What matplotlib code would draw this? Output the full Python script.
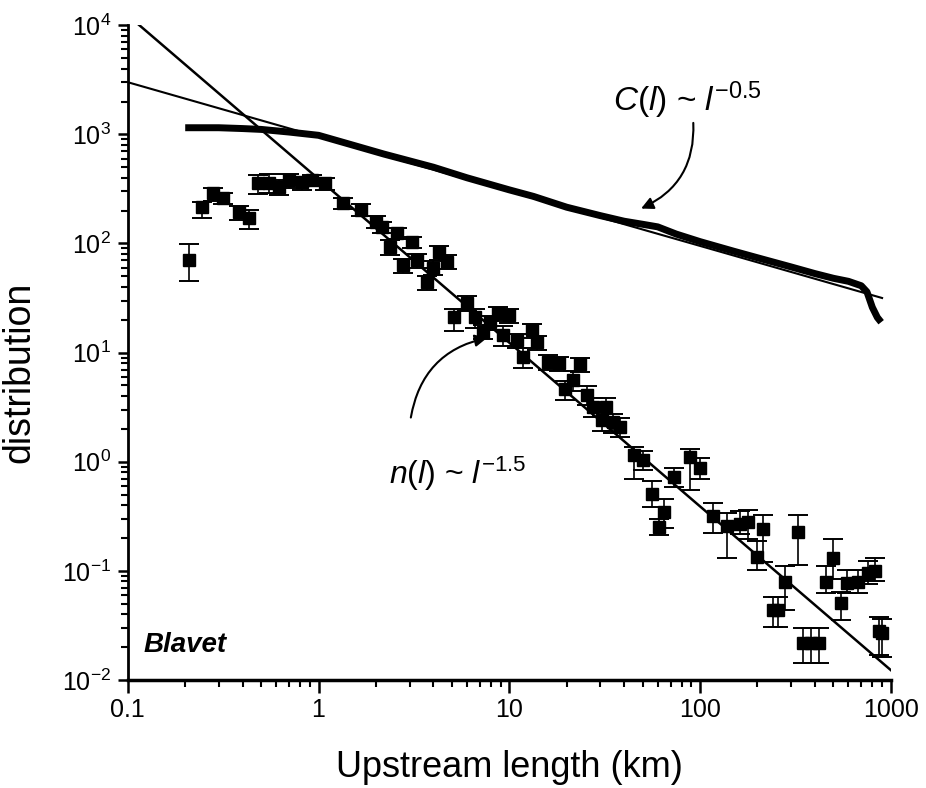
import numpy as np
import matplotlib.pyplot as plt
from matplotlib.ticker import LogLocator, NullFormatter

plt.rcParams['font.family'] = ['Liberation Sans', 'DejaVu Sans']
plt.rcParams['mathtext.fontset'] = 'custom'
plt.rcParams['mathtext.rm'] = 'Liberation Sans'
plt.rcParams['mathtext.it'] = 'Liberation Sans:italic'
plt.rcParams['mathtext.bf'] = 'Liberation Sans:bold'
plt.rcParams['axes.unicode_minus'] = False

# n(l): histogram points (length in km, distribution)
length = [0.21, 0.244, 0.279, 0.316, 0.383, 0.43, 0.48, 0.55, 0.62, 0.70,
          0.82, 0.92, 1.08, 1.35, 1.66, 2.0, 2.15, 2.37, 2.58, 2.77,
          3.1, 3.3, 3.7, 4.0, 4.3, 4.7, 5.1, 6.0, 6.6, 7.3,
          7.95, 8.7, 9.3, 10.0, 11.0, 11.8, 13.2, 13.9, 16, 18.2,
          19.7, 21.7, 23.6, 25.7, 27.5, 30.5, 32, 35, 38, 45,
          50, 56, 61, 65, 73, 89, 100, 117, 138, 162,
          178, 200, 214, 240, 255, 280, 325, 345, 380, 420,
          455, 500, 550, 590, 670, 760, 830, 870, 900]
n_l = [70, 215, 288, 259, 195, 170, 355, 360, 330, 380,
       365, 380, 355, 234, 204, 158, 141, 93, 124, 63,
       103, 70, 44, 60, 83, 68, 21, 28.5, 21, 15.6,
       19, 23, 14.5, 22, 13, 9.1, 16, 12.4, 8.2, 8.0,
       4.6, 5.6, 7.8, 4.1, 3.2, 2.4, 3.2, 2.3, 2.1, 1.15,
       1.04, 0.51, 0.25, 0.35, 0.73, 1.1, 0.87, 0.32, 0.26, 0.27,
       0.28, 0.135, 0.24, 0.044, 0.044, 0.079, 0.225, 0.022, 0.022, 0.022,
       0.079, 0.13, 0.051, 0.078, 0.079, 0.095, 0.10, 0.028, 0.027]
# relative error bars (below, above)
err_lo = [0.35, 0.2, 0.15, 0.12, 0.15, 0.2, 0.2, 0.2, 0.15, 0.15,
          0.15, 0.12, 0.12, 0.12, 0.12, 0.12, 0.12, 0.15, 0.12, 0.15,
          0.12, 0.15, 0.15, 0.15, 0.15, 0.15, 0.25, 0.15, 0.2, 0.15,
          0.15, 0.15, 0.2, 0.15, 0.15, 0.2, 0.15, 0.15, 0.15, 0.15,
          0.2, 0.2, 0.15, 0.2, 0.2, 0.2, 0.2, 0.2, 0.2, 0.4,
          0.2, 0.25, 0.15, 0.3, 0.2, 0.5, 0.2, 0.3, 0.5, 0.2,
          0.3, 0.25, 0.5, 0.3, 0.3, 0.45, 0.5, 0.35, 0.35, 0.35,
          0.2, 0.35, 0.3, 0.2, 0.2, 0.2, 0.2, 0.4, 0.4]
err_hi = [0.4, 0.12, 0.12, 0.12, 0.12, 0.2, 0.2, 0.2, 0.15, 0.15,
          0.12, 0.12, 0.12, 0.12, 0.12, 0.12, 0.12, 0.15, 0.12, 0.15,
          0.12, 0.15, 0.15, 0.15, 0.15, 0.15, 0.2, 0.15, 0.2, 0.15,
          0.15, 0.15, 0.2, 0.15, 0.15, 0.2, 0.15, 0.15, 0.15, 0.15,
          0.2, 0.2, 0.15, 0.2, 0.2, 0.2, 0.2, 0.2, 0.2, 0.2,
          0.2, 0.3, 0.2, 0.3, 0.2, 0.2, 0.25, 0.3, 0.3, 0.3,
          0.3, 0.4, 0.35, 0.3, 0.3, 0.4, 0.45, 0.35, 0.35, 0.35,
          0.4, 0.5, 0.25, 0.3, 0.3, 0.3, 0.3, 0.35, 0.35]

# C(l): cumulative curve (thick line)
c_length = [0.2, 0.3, 0.4, 0.5, 0.7, 1.0, 1.5, 2.2, 4, 6,
            10, 13.4, 20, 30, 40, 50, 60, 75, 100, 150,
            200, 300, 400, 500, 600, 700, 750, 800, 850, 890]
c_l = [1150, 1150, 1130, 1110, 1050, 980, 800, 660, 500, 400,
       310, 270, 215, 180, 160, 150, 142, 122, 104, 85,
       74, 61, 53, 48, 45, 41, 36, 26, 21, 19]

# power-law fits
n_amp, n_exp = 390, -1.5
c_amp, c_exp = 950, -0.5

xtick_vals = [0.1, 1, 10, 100, 1000]
xtick_labels = ['0.1', '1', '10', '100', '1000']
ytick_vals = [1e-2, 1e-1, 1e0, 1e1, 1e2, 1e3, 1e4]

fig = plt.figure(figsize=(9.26, 7.88), dpi=100)
ax = fig.add_axes([0.138, 0.137, 0.824, 0.831])

ax.set_xscale('log')
ax.set_yscale('log')

# fit lines
xf = np.logspace(-1, 3, 50)
ax.plot(xf, n_amp * xf ** n_exp, color='black', lw=1.8, zorder=2)
xc = np.logspace(-1, np.log10(900), 50)
ax.plot(xc, c_amp * xc ** c_exp, color='black', lw=1.5, zorder=2)

# C(l) data curve
ax.plot(c_length, c_l, color='black', lw=5, solid_capstyle='butt', zorder=3)

# n(l) data with error bars
x = np.array(length)
y = np.array(n_l)
yerr = [y * np.array(err_lo), y * np.array(err_hi)]
ax.errorbar(x, y, yerr=yerr, fmt='s', color='black', ms=9, capsize=7,
            elinewidth=1.2, capthick=1.4, zorder=4)

ax.set_xlim(0.1, 1000)
ax.set_ylim(1e-2, 1e4)

ax.spines['top'].set_visible(False)
ax.spines['right'].set_visible(False)
ax.spines['left'].set_linewidth(2)
ax.spines['bottom'].set_linewidth(2.5)

ax.set_xticks(xtick_vals)
ax.set_xticklabels(xtick_labels)
ax.set_yticks(ytick_vals)
minor = LogLocator(base=10, subs=np.arange(2, 10))
ax.xaxis.set_minor_locator(minor)
ax.yaxis.set_minor_locator(LogLocator(base=10, subs=np.arange(2, 10)))
ax.xaxis.set_minor_formatter(NullFormatter())
ax.yaxis.set_minor_formatter(NullFormatter())
ax.tick_params(axis='x', which='major', direction='out', length=9, width=1.8,
               labelsize=18, pad=4)
ax.tick_params(axis='y', which='major', direction='out', length=7, width=1.8,
               labelsize=18, pad=5)
ax.tick_params(which='minor', direction='out', length=5, width=1.5)

ax.set_xlabel('Upstream length (km)', fontsize=26, labelpad=20)
ax.set_ylabel('distribution', fontsize=27)
ax.yaxis.set_label_coords(-0.119, 0.47)

ax.text(0.02, 0.043, 'Blavet', transform=ax.transAxes, fontsize=20,
        fontweight='bold', fontstyle='italic')

ax.annotate('', xy=(47.6, 204), xytext=(92, 1350),
            arrowprops=dict(arrowstyle='-|>', color='black', lw=1.5,
                            mutation_scale=18,
                            connectionstyle='arc3,rad=-0.35'))
ax.text(35, 1650, r'$C(l)$ ~ $l^{-0.5}$', fontsize=24)

ax.annotate('', xy=(7.9, 13.8), xytext=(3.03, 2.4),
            arrowprops=dict(arrowstyle='-|>', color='black', lw=1.5,
                            mutation_scale=18,
                            connectionstyle='arc3,rad=-0.35'))
ax.text(2.35, 0.63, r'$n(l)$ ~ $l^{-1.5}$', fontsize=23)

fig.savefig('out.png', dpi=100)
